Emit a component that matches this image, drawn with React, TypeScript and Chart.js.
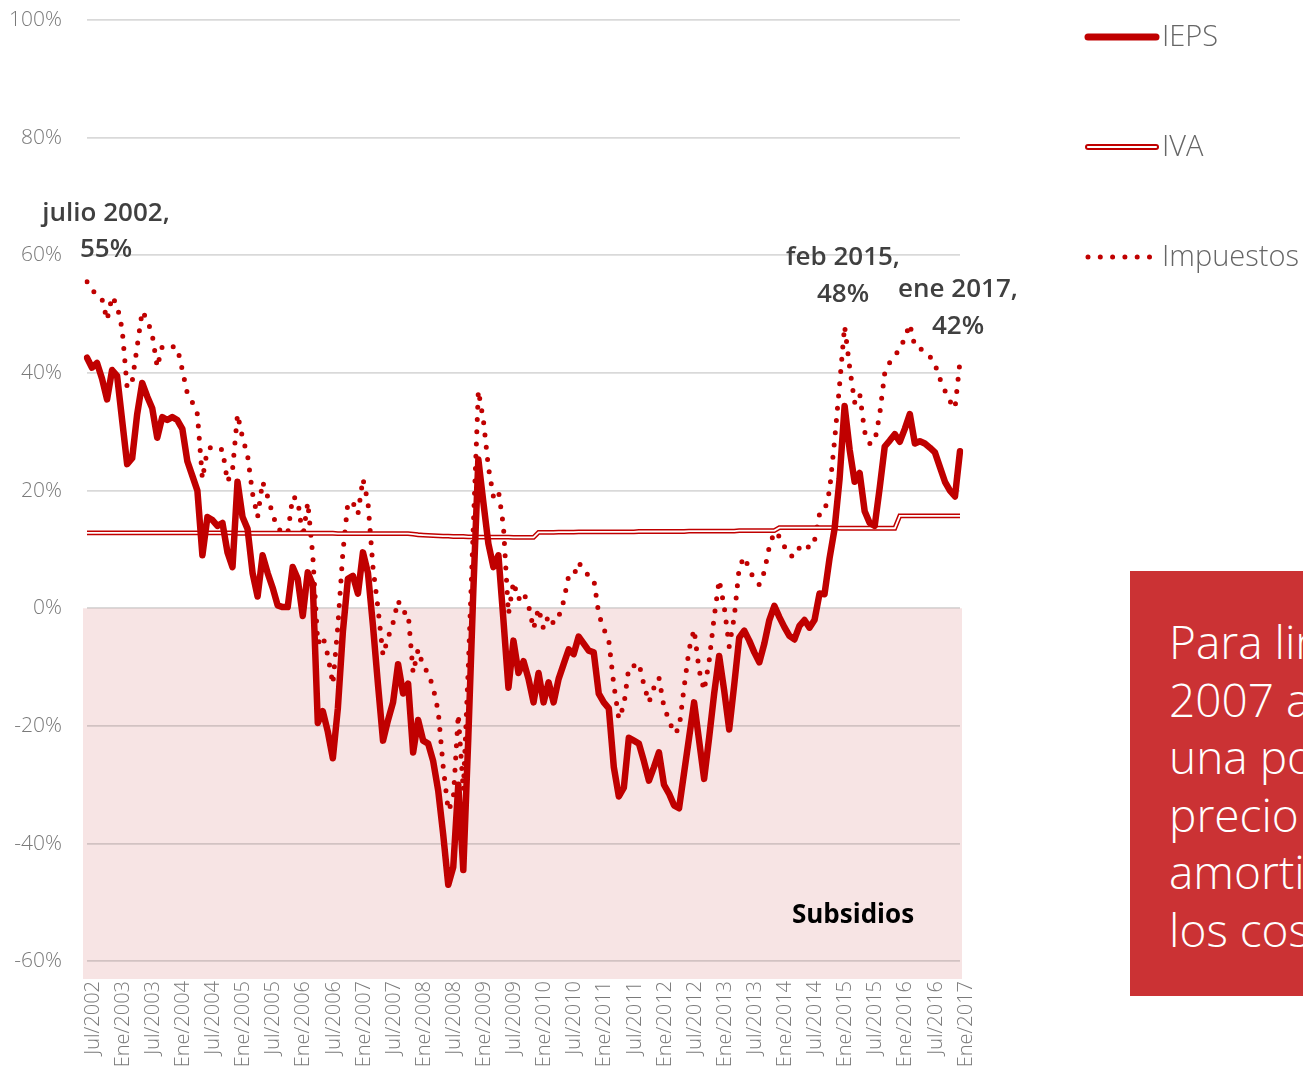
import React, { useEffect, useRef } from "react";
import { Chart, registerables } from "chart.js";
Chart.register(...registerables);

// Tick labels shown every 6 months
const tickLabels = [
  "Jul/2002", "Ene/2003", "Jul/2003", "Ene/2004", "Jul/2004", "Ene/2005", "Jul/2005", "Ene/2006",
  "Jul/2006", "Ene/2007", "Jul/2007", "Ene/2008", "Jul/2008", "Ene/2009", "Jul/2009", "Ene/2010",
  "Jul/2010", "Ene/2011", "Jul/2011", "Ene/2012", "Jul/2012", "Ene/2013", "Jul/2013", "Ene/2014",
  "Jul/2014", "Ene/2015", "Jul/2015", "Ene/2016", "Jul/2016", "Ene/2017",
];
const monthAbbr = ["Ene", "Feb", "Mar", "Abr", "May", "Jun", "Jul", "Ago", "Sep", "Oct", "Nov", "Dic"];

// IEPS (% ) monthly Jul/2002 .. Ene/2017
const ieps = [
  42.6, 40.9, 41.7, 39, 35.5, 40.5, 39.5, 32, 24.5, 25.5,
  33, 38.3, 36, 34, 29, 32.5, 32, 32.5, 32, 30.5,
  25, 22.5, 20, 9, 15.5, 15, 14, 14.5, 9.5, 7,
  21.5, 15.5, 13.5, 6, 2, 9, 6, 3.5, 0.5, 0.2,
  0.2, 7, 5, -1.3, 6.1, 4, -19.5, -17.5, -21, -25.5,
  -17, -4, 5, 5.5, 2.5, 9.5, 6, -3, -13, -22.5,
  -19, -16, -9.5, -14.5, -12.8, -24.5, -19, -22.5, -23, -26,
  -31, -38.5, -47, -44, -30, -44.5, -22, 3, 25.3, 18,
  11, 7, 9, -2, -13.5, -5.5, -11, -9, -12, -16,
  -11, -16, -12.6, -16, -12, -9.5, -7, -7.8, -4.8, -6,
  -7.2, -7.5, -14.5, -16, -17, -27, -32, -30.5, -22, -22.5,
  -23, -26, -29.3, -27, -24.5, -30, -31.5, -33.5, -34, -28,
  -22, -16, -22.5, -29, -22, -14.5, -8.1, -14, -20.6, -13,
  -5, -3.8, -5.5, -7.5, -9.2, -6, -2, 0.4, -1.5, -3.2,
  -4.7, -5.3, -3, -2, -3.3, -2, 2.5, 2.4, 8.5, 13.5,
  22, 34.4, 27, 21.5, 23, 16.5, 14.5, 14, 20.5, 27.5,
  28.5, 29.6, 28.3, 30.5, 33, 28, 28.4, 28, 27.3, 26.5,
  24, 21.5, 20, 19, 26.7,
];

// IVA (%)
const iva = [
  12.8, 12.8, 12.8, 12.8, 12.8, 12.8, 12.8, 12.8, 12.8, 12.8,
  12.8, 12.8, 12.8, 12.8, 12.8, 12.8, 12.8, 12.8, 12.8, 12.8,
  12.8, 12.8, 12.8, 12.8, 12.8, 12.8, 12.8, 12.8, 12.8, 12.8,
  12.75, 12.75, 12.75, 12.75, 12.75, 12.75, 12.75, 12.75, 12.75, 12.75,
  12.75, 12.75, 12.75, 12.75, 12.75, 12.75, 12.75, 12.75, 12.75, 12.75,
  12.7, 12.7, 12.7, 12.7, 12.7, 12.7, 12.7, 12.7, 12.7, 12.7,
  12.7, 12.7, 12.7, 12.7, 12.7, 12.6, 12.5, 12.45, 12.4, 12.35,
  12.3, 12.25, 12.25, 12.2, 12.2, 12.2, 12.15, 12.15, 12.1, 12.1,
  12.1, 12.1, 12.1, 12.1, 12.1, 12.05, 12.05, 12.05, 12.05, 12.05,
  12.9, 12.9, 12.9, 12.9, 12.95, 12.95, 12.95, 12.95, 13, 13,
  13, 13, 13, 13, 13, 13, 13, 13, 13, 13,
  13.05, 13.05, 13.05, 13.05, 13.05, 13.05, 13.05, 13.05, 13.05, 13.05,
  13.1, 13.1, 13.1, 13.1, 13.1, 13.1, 13.1, 13.1, 13.1, 13.1,
  13.2, 13.2, 13.2, 13.2, 13.2, 13.2, 13.2, 13.2, 13.7, 13.7,
  13.7, 13.7, 13.7, 13.7, 13.7, 13.7, 13.7, 13.7, 13.7, 13.7,
  13.6, 13.6, 13.6, 13.6, 13.6, 13.6, 13.6, 13.6, 13.6, 13.6,
  13.6, 13.6, 15.7, 15.7, 15.7, 15.7, 15.7, 15.7, 15.7, 15.7,
  15.7, 15.7, 15.7, 15.7, 15.7,
];

// Impuestos (%)
const impuestos = [
  55.5, 54, 53.5, 52.5, 49, 53, 51.5, 47.5, 37.5, 38.5,
  44.5, 50.5, 49, 46.5, 41, 44.5, 44.7, 44.5, 44.3, 40.5,
  36.5, 35, 33, 22, 27, 27.5, 27, 27, 21.5, 23.5,
  33, 29, 26, 19.5, 15.5, 21.5, 19, 16, 13.5, 13,
  12.6, 19, 18.5, 12, 18, 9, -6, -4.7, -8, -12.9,
  -3, 9.5, 18, 18, 16, 22, 18, 7, 0, -8,
  -5, -2.5, 1.3, -0.7, -0.7, -11, -7, -9.8, -11, -13.5,
  -17.5, -27, -34.4, -32.5, -18, -31, -10, 14, 37, 32,
  24, 19, 20, 14, -1, 4.5, 1.5, 2.7, 0.5, -3.5,
  0, -3.5, -1.2, -2.6, -1.5, 1.2, 5.5, 5.5, 7.8, 6.5,
  5.5, 5, -1, -3.5, -5.5, -13, -18.8, -16.5, -10, -9.8,
  -9.3, -13, -16, -13.5, -11.8, -16.8, -19, -21.3, -20.5, -13.5,
  -7, -3.6, -10.5, -14, -9, -1.5, 4.8, 0.3, -6.5, -1.5,
  7, 8.7, 6.7, 4.8, 4, 6.2, 10.5, 13, 12.2, 10.5,
  9, 8.8, 10.3, 11, 10.2, 11.5, 16, 16.5, 20, 28.5,
  38, 48, 41, 35, 36.5, 30, 28, 28.3, 33, 40,
  41.8, 43, 44, 46, 48.3, 44.5, 44.2, 43.6, 42.8, 41.5,
  39, 37, 35.2, 34, 42,
];

const yTicks = [-60, -40, -20, 0, 20, 40, 60, 80, 100];

const boxLines = ["Para limitar el", "2007 a 2014 se", "una política de", "precio para", "amortiguar", "los costos"];

const FONT = '"Open Sans", "Segoe UI", sans-serif';
const RED = "#C00000";

const categories = ieps.map((_, i) => {
  const m = (6 + i) % 12;
  const y = 2002 + Math.floor((6 + i) / 12);
  return `${monthAbbr[m]}/${y}`;
});

export default function App() {
  const ref = useRef<HTMLCanvasElement>(null);

  useEffect(() => {
    const canvas = ref.current!;
    const overlay = {
      id: "overlay",
      beforeDraw(chart: any) {
        const { ctx, chartArea, scales } = chart;
        const y0 = scales.y.getPixelForValue(0);
        ctx.save();
        ctx.fillStyle = "#F7E4E4";
        ctx.fillRect(chartArea.left - 4, y0, chartArea.right - chartArea.left + 6, chartArea.bottom - y0 + 1);
        ctx.restore();
      },
      afterDraw(chart: any) {
        const ctx = chart.ctx as CanvasRenderingContext2D;
        ctx.save();
        // annotations
        ctx.textAlign = "center";
        ctx.textBaseline = "alphabetic";
        ctx.fillStyle = "#404040";
        ctx.font = `600 26px ${FONT}`;
        ctx.fillText("julio 2002,", 106, 221);
        ctx.fillText("55%", 106, 257);
        ctx.fillText("feb 2015,", 843, 265);
        ctx.fillText("48%", 843, 302);
        ctx.fillText("ene 2017,", 958, 297);
        ctx.fillText("42%", 958, 334);
        ctx.fillStyle = "#000000";
        ctx.font = `700 26px ${FONT}`;
        ctx.fillText("Subsidios", 853, 923);

        // legend
        ctx.lineCap = "round";
        ctx.strokeStyle = RED;
        ctx.lineWidth = 7;
        ctx.beginPath();
        ctx.moveTo(1088, 37);
        ctx.lineTo(1156, 37);
        ctx.stroke();

        ctx.lineWidth = 6;
        ctx.beginPath();
        ctx.moveTo(1088, 147);
        ctx.lineTo(1156, 147);
        ctx.stroke();
        ctx.strokeStyle = "#ffffff";
        ctx.lineWidth = 2.2;
        ctx.beginPath();
        ctx.moveTo(1088, 147);
        ctx.lineTo(1156, 147);
        ctx.stroke();

        ctx.strokeStyle = RED;
        ctx.lineWidth = 5;
        ctx.setLineDash([0, 12.3]);
        ctx.beginPath();
        ctx.moveTo(1088, 257);
        ctx.lineTo(1152, 257);
        ctx.stroke();
        ctx.setLineDash([]);

        ctx.textAlign = "left";
        ctx.textBaseline = "middle";
        ctx.fillStyle = "#666666";
        ctx.font = `300 29px ${FONT}`;
        ctx.fillText("IEPS", 1162, 38);
        ctx.fillText("IVA", 1162, 148);
        ctx.fillText("Impuestos", 1162, 258);
        ctx.restore();
      },
    };

    const chart = new Chart(canvas, {
      type: "line",
      data: {
        labels: categories,
        datasets: [
          {
            label: "IEPS",
            data: ieps,
            borderColor: RED,
            borderWidth: 6.5,
            borderJoinStyle: "round",
            borderCapStyle: "round",
            pointRadius: 0,
            tension: 0,
          },
          {
            label: "IVA inner",
            data: iva,
            borderColor: "#ffffff",
            borderWidth: 1.8,
            pointRadius: 0,
            tension: 0,
          },
          {
            label: "IVA",
            data: iva,
            borderColor: RED,
            borderWidth: 4.8,
            pointRadius: 0,
            tension: 0,
          },
          {
            label: "Impuestos",
            data: impuestos,
            borderColor: RED,
            borderWidth: 5,
            borderDash: [0, 12.3],
            borderCapStyle: "round",
            pointRadius: 0,
            tension: 0,
          },
        ],
      },
      options: {
        responsive: false,
        animation: false,
        devicePixelRatio: 1,
        layout: { padding: { top: 20, right: 343, left: 0, bottom: 0 } },
        plugins: { legend: { display: false }, tooltip: { enabled: false } },
        scales: {
          x: {
            type: "category",
            offset: false,
            grid: { display: false, drawTicks: false },
            border: { display: false },
            ticks: {
              autoSkip: false,
              maxRotation: 90,
              minRotation: 90,
              padding: 3,
              labelOffset: 6,
              color: "#7a7a7a",
              font: { family: FONT, size: 20, weight: "300" },
              callback: (_v: any, i: number) => (i % 6 === 0 ? tickLabels[i / 6] : null),
            },
            afterFit: (s: any) => {
              s.height = 95;
              s.paddingLeft = 0;
              s.paddingRight = 0;
            },
          },
          y: {
            min: -62.85,
            max: 100,
            grid: { color: "rgba(0,0,0,0.15)", lineWidth: 1.75, drawTicks: false },
            border: { display: false },
            ticks: {
              stepSize: 20,
              padding: 25,
              color: "#7a7a7a",
              font: { family: FONT, size: 21, weight: "300" },
              callback: (v: any) => `${v}%`,
            },
            afterBuildTicks: (s: any) => {
              s.ticks = yTicks.map((v) => ({ value: v }));
            },
            afterFit: (s: any) => {
              s.width = 87;
              s.paddingTop = 0;
              s.paddingBottom = 0;
            },
          },
        },
      },
      plugins: [overlay],
    } as any);
    return () => chart.destroy();
  }, []);

  return (
    <div style={{ position: "fixed", left: 0, top: 0, width: 1303, height: 1073, overflow: "hidden", background: "#fff" }}>
      <canvas ref={ref} width={1303} height={1073} style={{ position: "absolute", left: 0, top: 0, width: 1303, height: 1073 }} />
      <div
        style={{
          position: "absolute",
          left: 1130,
          top: 571,
          width: 173,
          height: 425,
          background: "#CB3234",
          overflow: "hidden",
        }}
      >
        <div
          style={{
            position: "absolute",
            left: 39,
            top: 42,
            whiteSpace: "nowrap",
            color: "#ffffff",
            fontFamily: FONT,
            fontWeight: 300,
            fontSize: 46,
            lineHeight: "57.5px",
          }}
        >
          {boxLines.map((l) => (
            <div key={l}>{l}</div>
          ))}
        </div>
      </div>
    </div>
  );
}
